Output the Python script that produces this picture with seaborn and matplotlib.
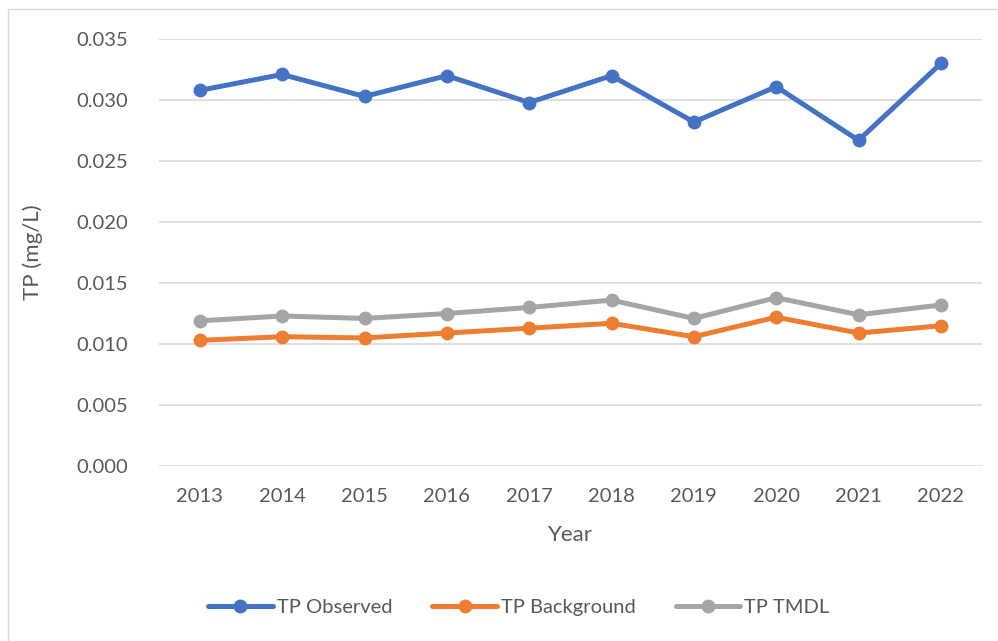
# Importing libraries
import numpy as np
import pandas as pd

# Importing visualizations
import matplotlib
matplotlib.use("Agg")
import matplotlib.pyplot as plt
from matplotlib.patches import Rectangle
import seaborn as sns

# Data
years = [2013, 2014, 2015, 2016, 2017, 2018, 2019, 2020, 2021, 2022]
tp_observed = [0.0308, 0.0321, 0.0303, 0.0320, 0.0298, 0.0320, 0.0282, 0.0311, 0.0267, 0.0330]
tp_background = [0.0103, 0.0106, 0.0105, 0.0109, 0.0113, 0.0117, 0.0106, 0.0122, 0.0109, 0.0115]
tp_tmdl = [0.0119, 0.0123, 0.0121, 0.0125, 0.0130, 0.0136, 0.0121, 0.0138, 0.0124, 0.0132]
series_names = ["TP Observed", "TP Background", "TP TMDL"]
colors = ["#4472C4", "#ED7D31", "#A5A5A5"]
y_ticks = [0.000, 0.005, 0.010, 0.015, 0.020, 0.025, 0.030, 0.035]

# Long-form table for seaborn
df = pd.DataFrame({
    "Year": years * 3,
    "TP": tp_observed + tp_background + tp_tmdl,
    "Series": [s for s in series_names for _ in years],
})

sns.set_theme(style="white")
plt.rcParams["font.family"] = ["Lato", "DejaVu Sans"]
text_color = "#595959"

fig = plt.figure(figsize=(9.98, 6.41), dpi=100)
ax = fig.add_axes([0.159, 0.273, 0.825, 0.666])

sns.lineplot(data=df, x="Year", y="TP", hue="Series", hue_order=series_names,
             palette=colors, marker="o", markersize=10, markeredgewidth=0,
             linewidth=3.6, ax=ax, legend=True)

ax.set_xlim(2012.5, 2022.5)
ax.set_ylim(0, 0.035)
ax.set_xticks(years)
ax.set_xticklabels([str(y) for y in years])
ax.set_yticks(y_ticks)
ax.set_yticklabels([f"{v:.3f}" for v in y_ticks])
ax.grid(axis="y", color="#D9D9D9", linewidth=1.2)
ax.set_axisbelow(True)
for s in ax.spines.values():
    s.set_visible(False)
ax.tick_params(axis="both", length=0, labelsize=14.5, colors=text_color)
ax.tick_params(axis="x", pad=16)
ax.tick_params(axis="y", pad=22)

ax.set_xlabel("Year", fontsize=16, color=text_color, labelpad=14)
ax.set_ylabel("TP (mg/L)", fontsize=16, color=text_color, labelpad=24)

# Legend at the bottom
handles, labels = ax.get_legend_handles_labels()
ax.legend_.remove()
fig.legend(handles, labels, loc="center", bbox_to_anchor=(0.52, 0.053), ncol=3,
           frameon=False, fontsize=14.5, handlelength=3.2, columnspacing=2.0,
           handletextpad=0.2, labelcolor=text_color)

# Light chart frame
fig.add_artist(Rectangle((8 / 998, -0.2), 2, 1 - 9 / 641 + 0.2, transform=fig.transFigure,
                         fill=False, edgecolor="#D9D9D9", linewidth=1))

plt.savefig("out.png", dpi=100)
